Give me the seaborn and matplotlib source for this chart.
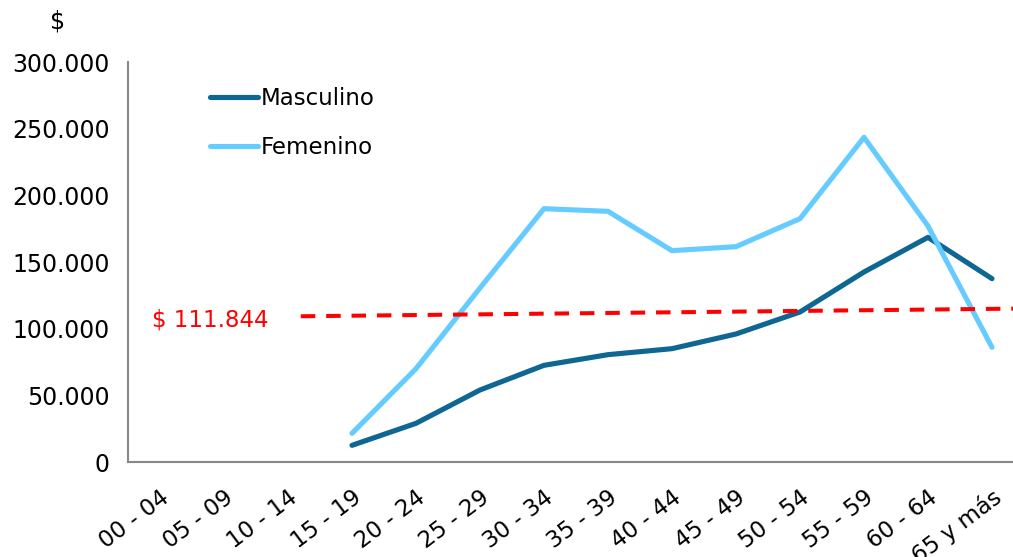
import numpy as np
import pandas as pd
import seaborn as sns
import matplotlib.pyplot as plt
from matplotlib.ticker import FuncFormatter, FixedLocator

grupos = ['00 - 04', '05 - 09', '10 - 14', '15 - 19', '20 - 24', '25 - 29', '30 - 34',
          '35 - 39', '40 - 44', '45 - 49', '50 - 54', '55 - 59', '60 - 64', '65 y más']
masculino = [np.nan, np.nan, np.nan, 12500, 29000, 54000, 72500, 80500, 85000,
             96000, 112500, 142500, 168500, 137500]
femenino = [np.nan, np.nan, np.nan, 21500, 70000, 130500, 190000, 188000, 158500,
            161500, 182500, 243500, 177000, 86000]
promedio_x = [2.2, 13.5]
promedio_y = [109300, 115100]
promedio_txt = '$ 111.844'

pos = np.arange(len(grupos))
df = pd.DataFrame({
    'pos': np.concatenate([pos, pos]),
    'monto': masculino + femenino,
    'sexo': ['Masculino'] * len(grupos) + ['Femenino'] * len(grupos),
}).dropna()

sns.set_style('white')
plt.rcParams['font.family'] = ['DejaVu Sans']
plt.rcParams['text.color'] = 'black'
plt.rcParams['xtick.labelcolor'] = 'black'
plt.rcParams['ytick.labelcolor'] = 'black'

fig = plt.figure(figsize=(10.13, 5.57), dpi=100)
ax = fig.add_axes([128 / 1013, 1 - 462 / 557, 896 / 1013, 400 / 557])

colores = {'Masculino': '#0e6692', 'Femenino': '#66ccff'}
sns.lineplot(data=df, x='pos', y='monto', hue='sexo', palette=colores,
             linewidth=3.7, ax=ax, sort=True)
for l in ax.lines:
    l.set_solid_capstyle('round')

ax.plot(promedio_x, promedio_y, color='#ff0000', linewidth=2.9,
        linestyle=(0, (3.6, 2.7)))
ax.text(0.78, 106500, promedio_txt, color='#ff0000', fontsize=16.5,
        ha='center', va='center')

ax.set_xlim(-0.5, 13.5)
ax.set_ylim(0, 300000)
ax.yaxis.set_major_locator(FixedLocator(np.arange(0, 300001, 50000)))
ax.yaxis.set_major_formatter(FuncFormatter(lambda v, p: f'{int(v):,}'.replace(',', '.')))

ax.set_xticks(pos)
ax.set_xticklabels(grupos, rotation=37, ha='right', rotation_mode='anchor')
ax.set_xticks(np.arange(-0.5, 13.6, 1), minor=True)
ax.tick_params(axis='x', which='major', length=0, pad=17, labelsize=16.5)
ax.tick_params(axis='x', which='minor', length=7, width=1.5, color='#888888', direction='out')
ax.tick_params(axis='y', which='major', length=6, width=1.5, color='#888888',
               direction='out', labelsize=17, pad=7)

for s in ['top', 'right']:
    ax.spines[s].set_visible(False)
for s in ['left', 'bottom']:
    ax.spines[s].set_color('#888888')
    ax.spines[s].set_linewidth(1.5)

ax.set_xlabel('')
ax.set_ylabel('')
fig.text(58 / 1013, 1 - 22 / 557, '$', fontsize=17, ha='center', va='center')

handles, labels = ax.get_legend_handles_labels()
ax.legend(handles, labels, loc='upper left', bbox_to_anchor=(0.068, 0.99),
          frameon=False, fontsize=16.5, handlelength=2.1, handletextpad=0.15,
          labelspacing=1.15)

fig.savefig('out.png', dpi=100)
